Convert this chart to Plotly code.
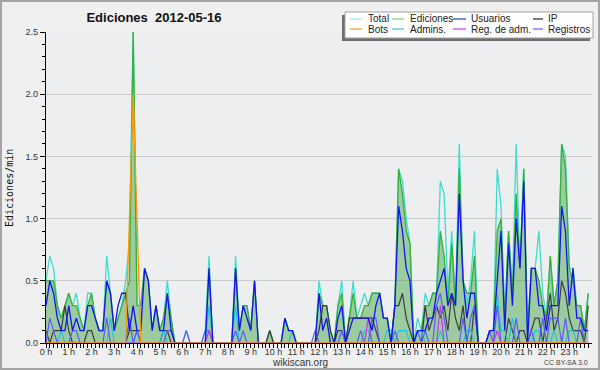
import plotly.graph_objects as go

# ---- data: 10-minute intervals over one day (edits per minute) ----
minutes = list(range(0, 1440, 10))
hour_labels = [f"{h} h" for h in range(24)]

total = [
    0.5, 0.7, 0.6, 0.3, 0.2, 0.3,   0.4, 0.3, 0.4, 0.2, 0.1, 0.4,
    0.4, 0.2, 0.1, 0.1, 0.7, 0.4,   0.1, 0.2, 0.3, 0.5, 0.8, 2.5,
    0.3, 0.3, 0.6, 0.5, 0.1, 0.3,   0.1, 0.2, 0.5, 0.2, 0.0, 0.0,
    0.0, 0.1, 0.0, 0.0, 0.0, 0.0,   0.1, 0.7, 0.0, 0.0, 0.0, 0.0,
    0.0, 0.0, 0.7, 0.1, 0.3, 0.3,   0.1, 0.5, 0.0, 0.0, 0.0, 0.1,
    0.0, 0.0, 0.0, 0.2, 0.1, 0.1,   0.0, 0.0, 0.0, 0.0, 0.0, 0.0,
    0.5, 0.3, 0.3, 0.1, 0.0, 0.3,   0.5, 0.0, 0.2, 0.5, 0.2, 0.3,
    0.4, 0.3, 0.4, 0.4, 0.4, 0.2,   0.2, 0.0, 0.3, 1.4, 1.3, 1.0,
    0.8, 0.0, 0.2, 0.1, 0.4, 0.3,   0.4, 0.4, 1.3, 1.2, 0.4, 0.9,
    0.3, 1.6, 0.5, 0.3, 0.5, 0.9,   0.0, 0.0, 0.0, 0.1, 0.1, 1.4,
    1.1, 0.2, 0.9, 0.4, 1.6, 0.6,   1.4, 0.1, 0.6, 0.6, 0.9, 0.4,
    0.2, 0.7, 0.3, 0.5, 1.6, 1.5,   0.6, 0.6, 0.3, 0.3, 0.1, 0.4,
]
ediciones = [
    0.5, 0.5, 0.5, 0.3, 0.2, 0.3,   0.4, 0.3, 0.3, 0.2, 0.1, 0.3,
    0.4, 0.2, 0.1, 0.1, 0.5, 0.4,   0.1, 0.2, 0.3, 0.4, 0.5, 2.5,
    0.3, 0.3, 0.6, 0.5, 0.1, 0.3,   0.1, 0.2, 0.4, 0.2, 0.0, 0.0,
    0.0, 0.0, 0.0, 0.0, 0.0, 0.0,   0.0, 0.6, 0.0, 0.0, 0.0, 0.0,
    0.0, 0.0, 0.6, 0.1, 0.3, 0.3,   0.1, 0.5, 0.0, 0.0, 0.0, 0.1,
    0.0, 0.0, 0.0, 0.2, 0.1, 0.1,   0.0, 0.0, 0.0, 0.0, 0.0, 0.0,
    0.4, 0.3, 0.3, 0.1, 0.0, 0.3,   0.4, 0.0, 0.2, 0.4, 0.2, 0.2,
    0.3, 0.3, 0.4, 0.4, 0.4, 0.2,   0.2, 0.0, 0.3, 1.4, 1.2, 0.9,
    0.8, 0.0, 0.1, 0.1, 0.3, 0.3,   0.4, 0.4, 0.9, 0.7, 0.3, 0.8,
    0.3, 1.4, 0.5, 0.4, 0.4, 0.7,   0.0, 0.0, 0.0, 0.1, 0.1, 0.9,
    1.0, 0.2, 0.9, 0.4, 1.2, 0.6,   1.4, 0.1, 0.6, 0.6, 0.5, 0.3,
    0.2, 0.7, 0.3, 0.5, 1.6, 1.4,   0.6, 0.5, 0.3, 0.3, 0.1, 0.4,
]
usuarios = [
    0.3, 0.5, 0.4, 0.2, 0.1, 0.1,   0.3, 0.1, 0.2, 0.1, 0.1, 0.3,
    0.3, 0.2, 0.1, 0.1, 0.5, 0.4,   0.1, 0.3, 0.4, 0.4, 0.1, 0.3,
    0.1, 0.1, 0.6, 0.5, 0.1, 0.3,   0.1, 0.1, 0.4, 0.1, 0.0, 0.0,
    0.0, 0.0, 0.0, 0.0, 0.0, 0.0,   0.0, 0.6, 0.0, 0.0, 0.0, 0.0,
    0.0, 0.0, 0.6, 0.1, 0.3, 0.2,   0.1, 0.5, 0.0, 0.0, 0.0, 0.0,
    0.0, 0.0, 0.0, 0.2, 0.1, 0.1,   0.0, 0.0, 0.0, 0.0, 0.0, 0.0,
    0.4, 0.1, 0.2, 0.0, 0.0, 0.2,   0.3, 0.0, 0.1, 0.2, 0.2, 0.2,
    0.2, 0.2, 0.1, 0.3, 0.4, 0.2,   0.2, 0.0, 0.3, 1.1, 0.9, 0.6,
    0.5, 0.0, 0.1, 0.1, 0.1, 0.2,   0.2, 0.4, 0.5, 0.6, 0.3, 0.4,
    0.3, 1.2, 0.5, 0.2, 0.4, 0.4,   0.0, 0.0, 0.0, 0.1, 0.1, 0.5,
    0.9, 0.1, 0.8, 0.3, 1.0, 0.6,   1.3, 0.0, 0.6, 0.6, 0.3, 0.3,
    0.1, 0.3, 0.3, 0.3, 1.1, 0.9,   0.3, 0.6, 0.2, 0.2, 0.1, 0.1,
]
ip = [
    0.1, 0.0, 0.1, 0.1, 0.1, 0.3,   0.1, 0.0, 0.0, 0.0, 0.0, 0.1,
    0.1, 0.0, 0.0, 0.0, 0.0, 0.0,   0.0, 0.0, 0.0, 0.0, 0.1, 0.1,
    0.1, 0.0, 0.0, 0.0, 0.0, 0.0,   0.0, 0.1, 0.1, 0.0, 0.0, 0.0,
    0.0, 0.0, 0.0, 0.0, 0.0, 0.0,   0.0, 0.0, 0.0, 0.0, 0.0, 0.0,
    0.0, 0.0, 0.0, 0.0, 0.0, 0.0,   0.0, 0.0, 0.0, 0.0, 0.0, 0.1,
    0.0, 0.0, 0.0, 0.0, 0.0, 0.0,   0.0, 0.0, 0.0, 0.0, 0.0, 0.0,
    0.1, 0.3, 0.3, 0.1, 0.0, 0.1,   0.1, 0.0, 0.2, 0.2, 0.2, 0.2,
    0.2, 0.2, 0.2, 0.1, 0.0, 0.0,   0.0, 0.0, 0.3, 0.3, 0.4, 0.2,
    0.1, 0.0, 0.0, 0.0, 0.3, 0.1,   0.2, 0.3, 0.2, 0.3, 0.1, 0.4,
    0.2, 0.1, 0.3, 0.0, 0.0, 0.3,   0.0, 0.0, 0.0, 0.0, 0.0, 0.0,
    0.0, 0.0, 0.2, 0.1, 0.0, 0.1,   0.1, 0.0, 0.1, 0.2, 0.2, 0.0,
    0.2, 0.4, 0.1, 0.2, 0.5, 0.4,   0.2, 0.1, 0.1, 0.1, 0.0, 0.3,
]
bots = [0.0] * 21 + [0.0, 1.0, 2.0, 1.0, 0.0] + [0.0] * 118
admins = [0.0] * 144
for k, v in {4: 0.1, 17: 0.2, 24: 0.1, 31: 0.1, 43: 0.3, 50: 0.3, 65: 0.1,
             84: 0.1, 85: 0.1, 90: 0.1, 91: 0.1, 93: 0.1, 94: 0.1, 95: 0.1,
             98: 0.1, 99: 0.1, 104: 0.1, 111: 0.1, 112: 0.1, 119: 0.4,
             120: 0.1, 121: 0.1, 123: 0.2, 129: 0.1, 130: 0.1, 134: 0.1,
             138: 0.1, 139: 0.1}.items():
    admins[k] = v
reg_adm = [0.0] * 144
for k, v in {43: 0.1, 85: 0.2, 104: 0.3, 119: 0.1}.items():
    reg_adm[k] = v
registros = [0.0] * 144
for k, v in {1: 0.2, 2: 0.1, 7: 0.1, 8: 0.1, 16: 0.2, 22: 0.2, 24: 0.1,
             32: 0.1, 33: 0.1, 37: 0.1, 42: 0.1, 43: 0.1, 50: 0.1, 52: 0.1,
             71: 0.1, 78: 0.1, 83: 0.1, 86: 0.2, 87: 0.2, 92: 0.1, 98: 0.1,
             100: 0.1, 103: 0.3, 104: 0.4, 105: 0.2, 110: 0.2, 112: 0.2,
             113: 0.3, 117: 0.1, 119: 0.3, 124: 0.2, 128: 0.1, 131: 0.2,
             133: 0.2, 134: 0.2, 135: 0.2, 137: 0.2, 141: 0.2}.items():
    registros[k] = v

legend_names = ["Total", "Ediciones", "Usuarios", "IP",
                "Bots", "Admins.", "Reg. de adm.", "Registros"]

# ---- styling ----
W, H = 600, 370
ML, MR, MT, MB = 46, 8, 32, 27
PW, PH = W - ML - MR, H - MT - MB
FONT = "Liberation Sans, Arial, sans-serif"

def px(x):
    return (x - ML) / PW

def py(y):
    return (H - MB - y) / PH

x_hours = [m / 60 for m in minutes]

C_TOTAL = "#40dccc"
C_EDIC = "#38b038"
C_USR = "#1414f0"
C_IP = "#3c3c3c"
C_BOTS = "#ff9900"
C_ADM = "#22c4dc"
C_REGADM = "#cc33ee"
C_REG = "#5a5aff"

fig = go.Figure()

# filled area of Ediciones
fig.add_trace(go.Scatter(x=x_hours, y=ediciones, mode="lines", fill="tozeroy",
                         fillcolor="rgba(60,160,60,0.45)",
                         line=dict(width=0, color=C_EDIC), hoverinfo="skip",
                         showlegend=False))

series = [
    (total, C_TOTAL, 1.3),
    (ediciones, C_EDIC, 1.3),
    (ip, C_IP, 1.2),
    (admins, C_ADM, 1.2),
    (registros, C_REG, 1.2),
    (reg_adm, C_REGADM, 1.2),
    (usuarios, C_USR, 1.3),
    (bots, C_BOTS, 1.3),
]
for ys, col, w in series:
    fig.add_trace(go.Scatter(x=x_hours, y=ys, mode="lines",
                             line=dict(color=col, width=w),
                             hoverinfo="skip", showlegend=False))

shapes = []
annotations = []

# outer border
shapes.append(dict(type="rect", xref="paper", yref="paper",
                   x0=px(1), x1=px(599), y0=py(369), y1=py(1),
                   line=dict(color="#a4a4a4", width=2), fillcolor="rgba(0,0,0,0)",
                   layer="above"))

# manual legend box with shadow
shapes.append(dict(type="rect", xref="paper", yref="paper",
                   x0=px(342), x1=px(590), y0=py(41), y1=py(15),
                   line=dict(width=0), fillcolor="#707070", layer="above"))
shapes.append(dict(type="rect", xref="paper", yref="paper",
                   x0=px(345), x1=px(593), y0=py(38), y1=py(12),
                   line=dict(color="#a0a0a0", width=1), fillcolor="#ffffff",
                   layer="above"))

leg_colors = ["#a6e6de", "#8ed48e", "#4444dd", "#303030",
              "#ff9933", "#44ccdd", "#cc44ee", "#7070f0"]
col_line = [(350, 362), (392, 404), (453, 466), (533, 543)]
col_text = [366, 408, 469, 546]
rows = [19, 29]
for idx, name in enumerate(legend_names):
    r, c = divmod(idx, 4)
    yv = py(rows[r])
    shapes.append(dict(type="line", xref="paper", yref="paper",
                       x0=px(col_line[c][0]), x1=px(col_line[c][1]),
                       y0=yv, y1=yv, line=dict(color=leg_colors[idx], width=1.3),
                       layer="above"))
    annotations.append(dict(text=name, xref="paper", yref="paper",
                            x=px(col_text[c]), y=yv, xanchor="left",
                            yanchor="middle", showarrow=False,
                            font=dict(family=FONT, size=10, color="#222222")))

# y axis title
annotations.append(dict(text="Ediciones/min", xref="paper", yref="paper",
                        x=px(9), y=py(188), textangle=-90, showarrow=False,
                        xanchor="center", yanchor="middle",
                        font=dict(family="DejaVu Sans Mono, monospace", size=10,
                                  color="#111111")))
# footer texts
annotations.append(dict(text="wikiscan.org", xref="paper", yref="paper",
                        x=px(300), y=py(362), showarrow=False,
                        xanchor="center", yanchor="middle",
                        font=dict(family=FONT, size=10, color="#333333")))
annotations.append(dict(text="CC BY-SA 3.0", xref="paper", yref="paper",
                        x=px(590), y=py(362), showarrow=False,
                        xanchor="right", yanchor="middle",
                        font=dict(family=FONT, size=7, color="#444444")))

minor_x = [m / 60 for m in range(10, 1440, 10) if m % 60 != 0]

fig.update_layout(
    width=W, height=H,
    margin=dict(l=ML, r=MR, t=MT, b=MB, pad=0),
    paper_bgcolor="#f0f0f0",
    plot_bgcolor="#eceef0",
    title=dict(text="<b>Ediciones\u00a0\u00a02012-05-16</b>",
               x=px(154), xref="paper", xanchor="center",
               y=1 - 17 / H, yref="container", yanchor="middle",
               font=dict(family=FONT, size=13, color="#111111")),
    xaxis=dict(range=[0, 24], tickmode="array", tickvals=list(range(24)),
               ticktext=hour_labels, ticks="outside", ticklen=4,
               tickcolor="black", showline=True, linecolor="black",
               linewidth=1.3, showgrid=False, zeroline=False,
               ticklabelstandoff=-4,
               tickfont=dict(family=FONT, size=9, color="#333333"),
               minor=dict(tickmode="array", tickvals=minor_x, ticks="outside",
                          ticklen=4, tickcolor="black", showgrid=False),
               fixedrange=True),
    yaxis=dict(range=[0, 2.5], tickmode="linear", tick0=0, dtick=0.5,
               tickformat=".1f", ticks="outside", ticklen=5,
               tickcolor="black", showline=True, linecolor="black",
               linewidth=1.3, showgrid=True, gridcolor="#cbcbcb",
               gridwidth=1, zeroline=False,
               tickfont=dict(family=FONT, size=9, color="#333333"),
               minor=dict(dtick=0.1, ticks="outside", ticklen=3,
                          tickcolor="black", showgrid=False),
               fixedrange=True),
    shapes=shapes,
    annotations=annotations,
    showlegend=False,
)

fig.write_html("out.html", config={"displayModeBar": False},
               post_script="document.body.style.margin='0';document.body.style.overflow='hidden';")
